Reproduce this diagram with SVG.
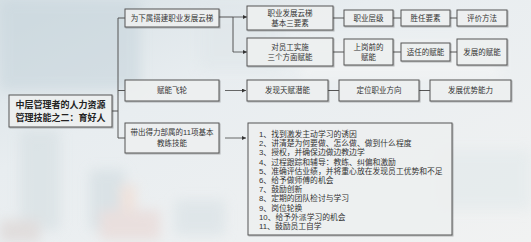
<svg xmlns="http://www.w3.org/2000/svg" width="531" height="242" viewBox="0 0 531 242">
  <defs>
    <linearGradient id="bg" x1="0" y1="0" x2="1" y2="1">
      <stop offset="0" stop-color="#d6e0e5"/>
      <stop offset="0.35" stop-color="#e8edf0"/>
      <stop offset="1" stop-color="#f1f2f2"/>
    </linearGradient>
    <filter id="soft" x="-20%" y="-20%" width="140%" height="140%">
      <feGaussianBlur stdDeviation="6"/>
    </filter>
    <filter id="shadow" x="-5%" y="-5%" width="115%" height="125%">
      <feDropShadow dx="1" dy="1" stdDeviation="0.6" flood-color="#000" flood-opacity="0.25"/>
    </filter>
    <marker id="arrow" viewBox="0 0 6 6" refX="6" refY="3" markerWidth="5" markerHeight="5" orient="auto">
      <path d="M0,0 L6,3 L0,6 z" fill="#333"/>
    </marker>
    <style>
      .box { fill: #f1f3f3; fill-opacity: 0.85; stroke: #555; stroke-width: 1; filter: url(#shadow); }
      .t { font-family: "Liberation Sans", "Noto Sans CJK SC", sans-serif; font-size: 7.5px; fill: #333; text-anchor: middle; }
      .root { font-family: "Liberation Sans", "Noto Sans CJK SC", sans-serif; font-size: 9px; font-weight: bold; fill: #222; text-anchor: middle; }
      .list { font-family: "Liberation Sans", "Noto Sans CJK SC", sans-serif; font-size: 7.8px; fill: #333; }
      .ln { stroke: #555; stroke-width: 1; fill: none; }
      .arr { stroke: #444; stroke-width: 0.8; fill: none; marker-end: url(#arrow); }
    </style>
  </defs>

  <!-- blurred backdrop -->
  <rect width="531" height="242" fill="url(#bg)"/>
  <g filter="url(#soft)" opacity="0.55">
    <rect x="0" y="0" width="140" height="90" fill="#c6d4db"/>
    <rect x="20" y="130" width="40" height="100" fill="#d3dde0"/>
    <rect x="90" y="170" width="35" height="60" fill="#cdd9de"/>
    <rect x="120" y="185" width="16" height="40" fill="#f3d9cc"/>
    <rect x="100" y="210" width="60" height="30" fill="#e8d3cf"/>
    <rect x="0" y="220" width="40" height="22" fill="#d9cfcc"/>
    <rect x="175" y="200" width="50" height="35" fill="#d5dfe3"/>
    <rect x="300" y="40" width="200" height="40" fill="#f4f5f5"/>
    <rect x="200" y="10" width="80" height="60" fill="#dfe6e9"/>
    <rect x="440" y="150" width="91" height="60" fill="#e0e8ea"/>
  </g>

  <!-- connectors -->
  <g id="connectors">
    <path class="ln" d="M112,111 H118 M118,18 V138 M118,18 H125 M118,90.5 H125 M118,138 H125"/>
    <path class="ln" d="M219,17 H233 V52"/>
    <path class="arr" d="M233,17 H247"/>
    <path class="arr" d="M233,52 H247"/>
    <path class="arr" d="M225,90.5 H246"/>
    <path class="arr" d="M225,138 H246"/>
    <path class="ln" d="M333,18 H344 M393,18 H401 M450,18 H457"/>
    <path class="ln" d="M333,52 H344 M393,52 H401 M450,52 H457"/>
    <path class="ln" d="M328,90.5 H339 M419,90.5 H430"/>
  </g>

  <g id="root">
    <rect class="box" x="9" y="95" width="103" height="32"/>
    <text class="root" x="60.5" y="108">中层管理者的人力资源</text>
    <text class="root" x="60.5" y="121">管理技能之二：育好人</text>
  </g>

  <g id="career-ladder">
    <rect class="box" x="125" y="9" width="94" height="18"/>
    <text class="t" x="172" y="21">为下属搭建职业发展云梯</text>
  </g>

  <g id="ladder-elements">
    <rect class="box" x="247" y="6" width="86" height="24"/>
    <text class="t" x="290" y="16">职业发展云梯</text>
    <text class="t" x="290" y="26">基本三要素</text>
  </g>
  <g id="job-level">
    <rect class="box" x="344" y="10" width="49" height="16"/>
    <text class="t" x="368.5" y="20.5">职业层级</text>
  </g>
  <g id="competency">
    <rect class="box" x="401" y="10" width="49" height="16"/>
    <text class="t" x="425.5" y="20.5">胜任要素</text>
  </g>
  <g id="evaluation">
    <rect class="box" x="457" y="10" width="50" height="16"/>
    <text class="t" x="482" y="20.5">评价方法</text>
  </g>

  <g id="empower-three">
    <rect class="box" x="247" y="38" width="86" height="28"/>
    <text class="t" x="290" y="50">对员工实施</text>
    <text class="t" x="290" y="60">三个方面赋能</text>
  </g>
  <g id="pre-job">
    <rect class="box" x="344" y="39" width="49" height="26"/>
    <text class="t" x="368.5" y="50">上岗前的</text>
    <text class="t" x="368.5" y="60">赋能</text>
  </g>
  <g id="on-job">
    <rect class="box" x="401" y="43" width="49" height="18"/>
    <text class="t" x="425.5" y="55">适任的赋能</text>
  </g>
  <g id="growth">
    <rect class="box" x="457" y="39" width="50" height="26"/>
    <text class="t" x="482" y="55">发展的赋能</text>
  </g>

  <g id="flywheel">
    <rect class="box" x="125" y="80" width="94" height="21"/>
    <text class="t" x="172" y="93">赋能飞轮</text>
  </g>
  <g id="talent">
    <rect class="box" x="247" y="80" width="81" height="21"/>
    <text class="t" x="287.5" y="93">发现天赋潜能</text>
  </g>
  <g id="direction">
    <rect class="box" x="339" y="80" width="80" height="21"/>
    <text class="t" x="379" y="93">定位职业方向</text>
  </g>
  <g id="strength">
    <rect class="box" x="430" y="80" width="81" height="21"/>
    <text class="t" x="470.5" y="93">发展优势能力</text>
  </g>

  <g id="coaching">
    <rect class="box" x="125" y="123" width="94" height="30"/>
    <text class="t" x="172" y="135">带出得力部属的11项基本</text>
    <text class="t" x="172" y="146">教练技能</text>
  </g>

  <g id="coaching-list">
    <rect class="box" x="248" y="123" width="204" height="112"/>
    <text class="list" x="259" y="137">1、找到激发主动学习的诱因</text>
    <text class="list" x="259" y="146.2">2、讲清楚为何要做、怎么做、做到什么程度</text>
    <text class="list" x="259" y="155.4">3、授权，并确保边做边教边学</text>
    <text class="list" x="259" y="164.6">4、过程跟踪和辅导：教练、纠偏和激励</text>
    <text class="list" x="259" y="173.8">5、准确评估业绩，并将重心放在发现员工优势和不足</text>
    <text class="list" x="259" y="183">6、给予做师傅的机会</text>
    <text class="list" x="259" y="192.2">7、鼓励创新</text>
    <text class="list" x="259" y="201.4">8、定期的团队检讨与学习</text>
    <text class="list" x="259" y="210.6">9、岗位轮换</text>
    <text class="list" x="259" y="219.8">10、给予外派学习的机会</text>
    <text class="list" x="259" y="229">11、鼓励员工自学</text>
  </g>
</svg>
